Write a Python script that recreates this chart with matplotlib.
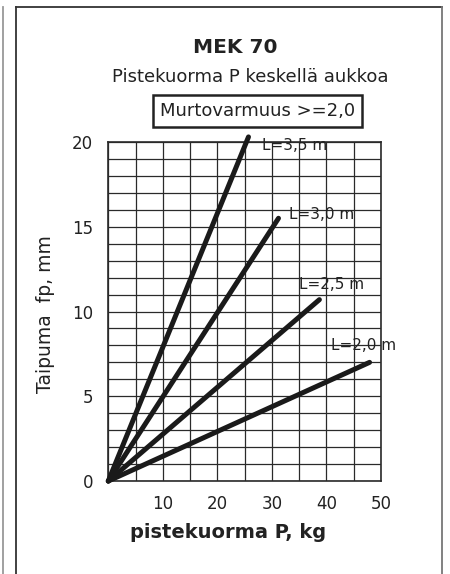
import matplotlib
matplotlib.use("Agg")
import matplotlib.pyplot as plt
from matplotlib.lines import Line2D

plt.rcParams["font.family"] = ["DejaVu Sans"]

# deflection lines through the origin, one per span
spans = ["L=2,0 m", "L=2,5 m", "L=3,0 m", "L=3,5 m"]
end_load = [47.9, 38.7, 31.2, 25.7]
end_defl = [7.0, 10.7, 15.5, 20.3]

x_ticks = [10, 20, 30, 40, 50]
y_ticks = [0, 5, 10, 15, 20]

# label offsets (points) from each line's end
label_offsets = [(-28, 12), (-14.6, 11), (7.7, 2.7), (10, -6)]

fig = plt.figure(figsize=(4.5, 5.74), dpi=100)
ax = fig.add_axes([0.2407, 0.162, 0.606, 0.5906])

for name, px, py, off in zip(spans, end_load, end_defl, label_offsets):
    ax.plot([0, px], [0, py], color="#1a1a1a", lw=3.6,
            solid_capstyle="round", clip_on=False, zorder=3)
    ax.annotate(name, (px, py), xytext=off, textcoords="offset points",
                fontsize=11, color="#222222", va="center", ha="left",
                annotation_clip=False)

ax.set_xlim(0, 50)
ax.set_ylim(0, 20)
ax.set_xticks(range(0, 51, 5))
ax.set_yticks(range(0, 21))
ax.set_xticklabels(["" if v not in x_ticks else str(v) for v in range(0, 51, 5)])
ax.set_yticklabels(["" if v not in y_ticks else str(v) for v in range(0, 21)])
ax.grid(True, color="#2a2a2a", lw=0.9)
ax.tick_params(length=0, labelsize=12, colors="#222222")
ax.tick_params(axis="x", pad=10)
ax.tick_params(axis="y", pad=11)
for s in ax.spines.values():
    s.set_color("#2a2a2a")
    s.set_linewidth(1.2)

ax.set_xlabel("pistekuorma P, kg", fontsize=14, fontweight="bold",
              color="#222222", va="center")
ax.xaxis.set_label_coords(0.439, -0.153)
ax.set_ylabel("Taipuma  fp, mm", fontsize=13.5, color="#222222", va="center")
ax.yaxis.set_label_coords(-0.232, 0.493)

fig.text(0.522, 0.918, "MEK 70", fontsize=14.5, fontweight="bold",
         ha="center", va="center", color="#222222")
fig.text(0.556, 0.866, "Pistekuorma P keskellä aukkoa", fontsize=13,
         ha="center", va="center", color="#222222")
fig.text(0.573, 0.807, "Murtovarmuus >=2,0", fontsize=13, ha="center",
         va="center", color="#222222",
         bbox=dict(boxstyle="square,pad=0.38", fc="white", ec="#222222", lw=1.8))

# panel frame
fig.add_artist(Line2D([16 / 450, 16 / 450], [0, 1 - 7 / 574], color="#333333",
                      lw=1.3, transform=fig.transFigure))
fig.add_artist(Line2D([16 / 450, 442 / 450], [1 - 7 / 574, 1 - 7 / 574],
                      color="#333333", lw=1.3, transform=fig.transFigure))
fig.add_artist(Line2D([442 / 450, 442 / 450], [0, 1 - 7 / 574], color="#777777",
                      lw=1.3, transform=fig.transFigure))
fig.add_artist(Line2D([2.5 / 450, 2.5 / 450], [0, 1 - 7 / 574], color="#999999",
                      lw=1.3, transform=fig.transFigure))

fig.savefig("out.png", dpi=100)
